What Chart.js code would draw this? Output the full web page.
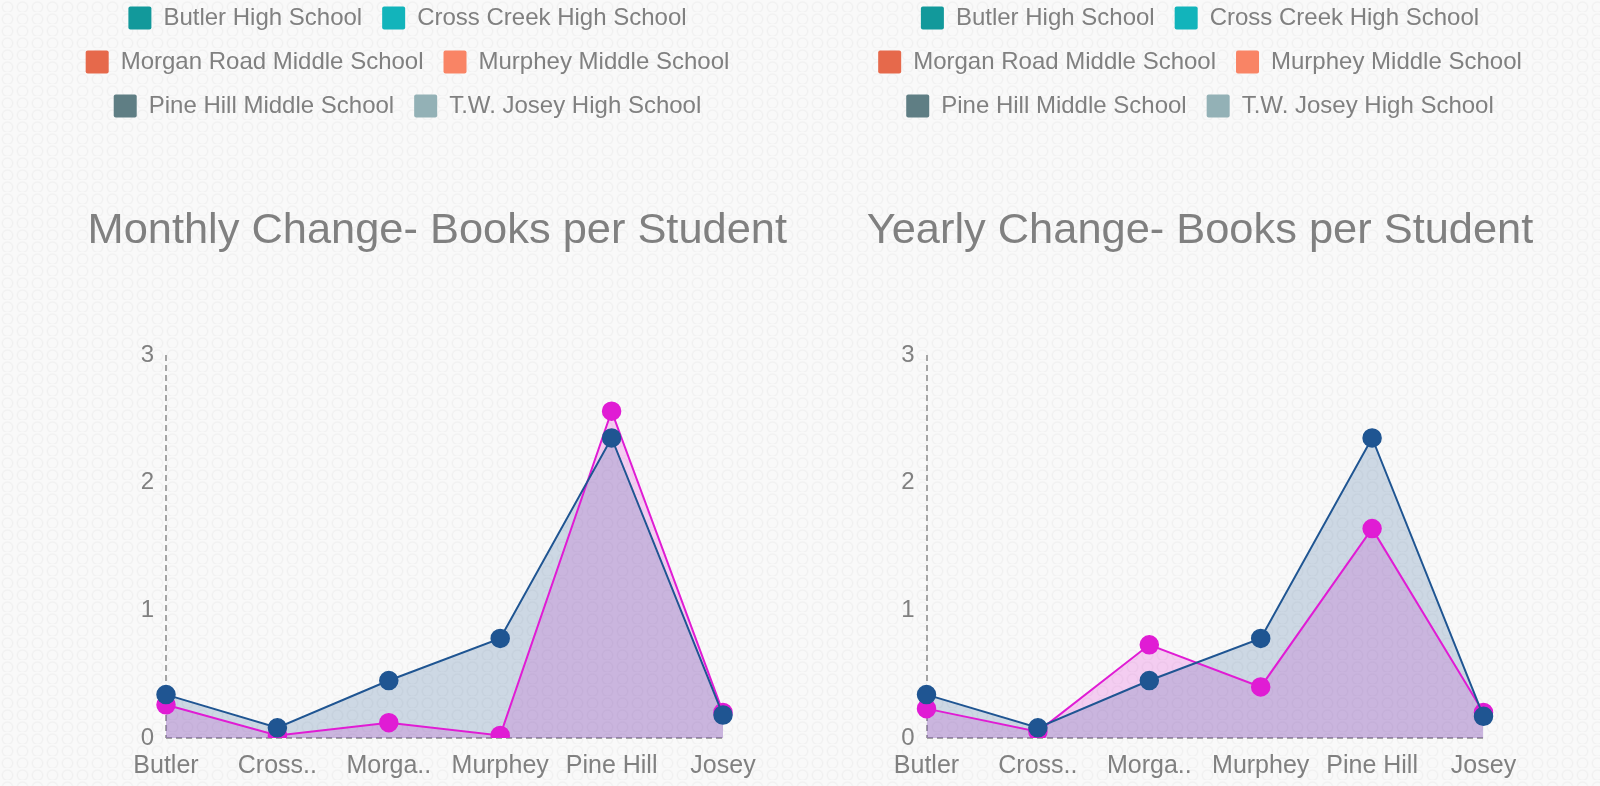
<!DOCTYPE html>
<html>
<head>
<meta charset="utf-8">
<script src="https://cdn.jsdelivr.net/npm/chart.js@4.4.1/dist/chart.umd.min.js"></script>
<style>
html, body { margin: 0; padding: 0; width: 1600px; height: 786px; overflow: hidden; }
body {
  position: relative;
  background-color: #f9f9f9;
  background-image: radial-gradient(circle at 50% 60%, rgba(0,0,0,0) 4px, rgba(0,0,0,0.035) 5px, rgba(0,0,0,0) 6.5px);
  background-size: 15px 12px;
}
.wrap { position: absolute; top: -14px; height: 808px; }
#w1 { left: 0; width: 815px; }
#w2 { left: 800px; width: 800px; }
</style>
</head>
<body>
<div class="wrap" id="w1"><canvas id="c1"></canvas></div>
<div class="wrap" id="w2"><canvas id="c2"></canvas></div>
<script>
const categories = ['Butler', 'Cross..', 'Morga..', 'Murphey', 'Pine Hill', 'Josey'];
const monthlyCurrent = [0.34, 0.08, 0.45, 0.78, 2.35, 0.18];
const monthlyPrevious = [0.26, 0.02, 0.12, 0.02, 2.56, 0.20];
const yearlyCurrent = [0.34, 0.08, 0.45, 0.78, 2.35, 0.17];
const yearlyPrevious = [0.23, 0.05, 0.73, 0.40, 1.64, 0.20];
const yTicks = [0, 1, 2, 3];
const legendSchools = ['Butler High School', 'Cross Creek High School', 'Morgan Road Middle School', 'Murphey Middle School', 'Pine Hill Middle School', 'T.W. Josey High School'];
const legendColors = ['#12999b', '#12b4bb', '#e6694b', '#f98465', '#5f7e84', '#93b1b6'];

const FONT = '"Liberation Sans", Arial, Helvetica, sans-serif';
const TEXT = '#808080';
const AXIS = '#a5a5a5';
const NONE = 'rgba(0,0,0,0)';
const BLUE = '#1f5592';
const MAGENTA = '#e01cd4';
Chart.defaults.font.family = FONT;
Chart.defaults.color = TEXT;

function makeChart(id, titleText, current, previous, cfg) {
  return new Chart(document.getElementById(id), {
    type: 'line',
    data: {
      labels: categories,
      datasets: [
        {
          label: 'Current', data: current,
          borderColor: BLUE, backgroundColor: 'rgba(31,85,146,0.2)', fill: 'origin',
          borderWidth: 2, tension: 0,
          pointRadius: 9, pointHoverRadius: 9, pointBorderWidth: 1.5,
          pointBackgroundColor: BLUE, pointBorderColor: BLUE
        },
        {
          label: 'Previous', data: previous,
          borderColor: MAGENTA, backgroundColor: 'rgba(224,28,212,0.2)', fill: 'origin',
          borderWidth: 2, tension: 0,
          pointRadius: 9, pointHoverRadius: 9, pointBorderWidth: 1.5,
          pointBackgroundColor: MAGENTA, pointBorderColor: MAGENTA
        }
      ]
    },
    options: {
      responsive: true,
      maintainAspectRatio: false,
      animation: false,
      layout: { padding: { top: 0, left: cfg.pad, right: cfg.pad, bottom: 0 } },
      plugins: {
        filler: { drawTime: 'beforeDatasetsDraw' },
        legend: {
          position: 'top',
          weight: 3000,
          onClick: () => {},
          labels: {
            boxWidth: 23, boxHeight: 23, padding: 20,
            color: TEXT, font: { family: FONT, size: 24 },
            useBorderRadius: true, borderRadius: 2,
            generateLabels: () => legendSchools.map((t, i) => ({
              text: t, fillStyle: legendColors[i], strokeStyle: legendColors[i],
              lineWidth: 0, hidden: false, index: i, fontColor: TEXT, borderRadius: 2
            }))
          }
        },
        title: {
          display: true, text: titleText, align: cfg.titleAlign,
          color: TEXT, font: { family: FONT, size: 43.4, weight: 'normal' },
          padding: { top: 76.6, bottom: 98.3 }
        },
        tooltip: { enabled: false }
      },
      scales: {
        x: {
          grid: {
            display: true, drawTicks: false, lineWidth: 2,
            color: (c) => (c.index === 0 ? AXIS : NONE)
          },
          border: { display: false, dash: [6, 4] },
          ticks: { color: TEXT, font: { family: FONT, size: 25 }, padding: 13, maxRotation: 0, autoSkip: false }
        },
        y: {
          min: 0, max: 3,
          grid: {
            display: true, drawTicks: false, lineWidth: 2,
            color: (c) => (c.tick && c.tick.value === 0 ? AXIS : NONE)
          },
          border: { display: false, dash: [6, 4] },
          afterBuildTicks: (s) => { s.ticks = yTicks.map(v => ({ value: v })); },
          ticks: { color: TEXT, font: { family: FONT, size: 24 }, padding: 12 },
          afterFit: (s) => { s.width = cfg.yWidth; }
        },
        yPad: {
          position: 'right', display: true,
          grid: { display: false, drawTicks: false },
          border: { display: false },
          ticks: { display: false },
          afterFit: (s) => { s.width = cfg.rightWidth; }
        }
      }
    }
  });
}

makeChart('c1', 'Monthly Change- Books per Student', monthlyCurrent, monthlyPrevious,
  { pad: 28, yWidth: 138, rightWidth: 64, titleAlign: 'end' });
makeChart('c2', 'Yearly Change- Books per Student', yearlyCurrent, yearlyPrevious,
  { pad: 0, yWidth: 126.5, rightWidth: 116.5, titleAlign: 'center' });
</script>
</body>
</html>
